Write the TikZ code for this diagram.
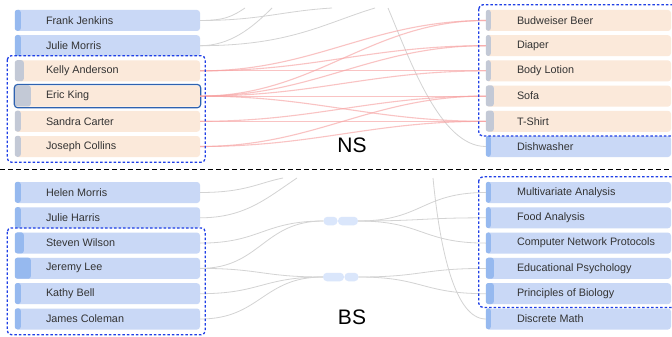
\documentclass[tikz,border=0pt]{standalone}
\usepackage{fontspec}
\setmainfont{Liberation Sans}
\usetikzlibrary{calc}
\definecolor{bbox}{HTML}{C9D8F6}
\definecolor{bstrip}{HTML}{96B9EF}
\definecolor{obox}{HTML}{FBE9DA}
\definecolor{ostrip}{HTML}{C3C9D6}
\definecolor{txt}{HTML}{333333}
\definecolor{dblue}{HTML}{1F3FE6}
\definecolor{selb}{HTML}{2E62B0}
\definecolor{glink}{HTML}{D3D3D3}
\definecolor{rlink}{HTML}{F7A3A3}
\definecolor{pillc}{HTML}{DAE6FB}
\tikzset{
  itembox/.style={rectangle, rounded corners=3pt, minimum width=185pt, minimum height=21pt, inner sep=0pt},
  lbl/.style={anchor=west, font=\fontsize{10.8}{12}\selectfont, text=txt, inner sep=0pt},
  glinkstyle/.style={draw=glink, line width=0.8pt},
  rlinkstyle/.style={draw=rlink, line width=1.1pt, opacity=0.65},
  dbox/.style={draw=dblue, line width=1.3pt, dash pattern=on 2.5pt off 2pt, rounded corners=4pt},
  divider/.style={draw=black, line width=0.8pt, dash pattern=on 5pt off 3pt},
  pill/.style={rectangle, rounded corners=4pt, fill=pillc, minimum height=8.5pt, inner sep=0pt},
  biglbl/.style={font=\fontsize{21}{24}\selectfont, text=black, inner sep=0pt}
}
\begin{document}
\begin{tikzpicture}[x=1pt, y=-1pt]
\useasboundingbox (0,0) rectangle (672,337);
\fill[white] (0,0) rectangle (672,337);

% ---------- free ends at the top ----------
\coordinate (t1) at (245,8);
\coordinate (t2) at (332,8);
\coordinate (t3) at (272,8);
\coordinate (t4) at (375,8);
\coordinate (t5) at (388,8);
\coordinate (tb1) at (283,178);
\coordinate (tb2) at (297,178);
\coordinate (tb3) at (433,178);

% ---------- nodes: boxes ----------
\foreach \n/\xx/\y/\t/\f/\s/\w in {
  frank/107.5/20.5/Frank Jenkins/bbox/bstrip/6,
  juliem/107.5/45.7/Julie Morris/bbox/bstrip/6,
  kelly/107.5/70.9/Kelly Anderson/obox/ostrip/9,
  eric/107.5/96.1/Eric King/obox/ostrip/16,
  sandra/107.5/121.3/Sandra Carter/obox/ostrip/6,
  joseph/107.5/146.5/Joseph Collins/obox/ostrip/6,
  bud/578.5/20.5/Budweiser Beer/obox/ostrip/5,
  diaper/578.5/45.7/Diaper/obox/ostrip/5,
  body/578.5/70.9/Body Lotion/obox/ostrip/5,
  sofa/578.5/96.1/Sofa/obox/ostrip/8,
  tshirt/578.5/121.3/T-Shirt/obox/ostrip/8,
  dish/578.5/146.5/Dishwasher/bbox/bstrip/5,
  helen/107.5/192.5/Helen Morris/bbox/bstrip/6,
  julieh/107.5/217.8/Julie Harris/bbox/bstrip/6,
  steven/107.5/243.1/Steven Wilson/bbox/bstrip/9,
  jeremy/107.5/268.4/Jeremy Lee/bbox/bstrip/16,
  kathy/107.5/293.7/Kathy Bell/bbox/bstrip/6,
  james/107.5/319/James Coleman/bbox/bstrip/6,
  multi/578.5/192.5/Multivariate Analysis/bbox/bstrip/5,
  food/578.5/217.8/Food Analysis/bbox/bstrip/5,
  comp/578.5/243.1/Computer Network Protocols/bbox/bstrip/5,
  edu/578.5/268.4/Educational Psychology/bbox/bstrip/8,
  bio/578.5/293.7/Principles of Biology/bbox/bstrip/8,
  dmath/578.5/319/Discrete Math/bbox/bstrip/5}
{
  \node[itembox, fill=\f] (\n) at (\xx,\y) {};
  \fill[\s, rounded corners=2.5pt] (\n.north west) rectangle ++(\w,21);
  \node[lbl] (\n-t) at ([xshift=31pt]\n.west) {\t};
}

% selected item border
\draw[selb, line width=1.2pt, rounded corners=3.5pt]
  ([shift={(-0.5,-1)}]eric.north west) rectangle ([shift={(0.5,1)}]eric.south east);

% ---------- bundle pills ----------
\node[pill, minimum width=14pt] (ub1) at (330.5,221) {};
\node[pill, minimum width=20pt] (ub2) at (348,221) {};
\node[pill, minimum width=21pt] (lb1) at (333.5,277) {};
\node[pill, minimum width=14pt] (lb2) at (351.5,277) {};

% gray links NS
\draw[glinkstyle] (frank.east) .. controls +(25,0) and +(-12,8) .. (t1);
\draw[glinkstyle] (frank.east) .. controls +(60,0) and +(-50,3) .. (t2);
\draw[glinkstyle] (juliem.east) .. controls +(30,0) and +(-20,20) .. (t3);
\draw[glinkstyle] (juliem.east) .. controls +(90,0) and +(-50,15) .. (t4);
\draw[glinkstyle] (t5) .. controls (410,60) and (440,146.5) .. (dish.west);

% red links NS
\foreach \a/\b in {kelly/bud, kelly/diaper, kelly/body,
                   eric/bud, eric/diaper, eric/body, eric/sofa, eric/tshirt,
                   sandra/sofa, sandra/tshirt, joseph/sofa, joseph/tshirt}
  \draw[rlinkstyle] (\a.east) .. controls +(115,0) and +(-115,0) .. (\b.west);

% gray links BS
\draw[glinkstyle] (helen.east) .. controls +(45,0) and +(-25,5) .. (tb1);
\draw[glinkstyle] (julieh.east) .. controls +(45,0) and +(-30,20) .. (tb2);
\draw[glinkstyle] (tb3) .. controls (440,250) and (455,319) .. (dmath.west);
\foreach \a/\b in {steven/ub1, jeremy/ub1, jeremy/lb1, kathy/lb1, james/lb1}
  \draw[glinkstyle] (\a.east) .. controls +(60,0) and +(-60,0) .. (\b.west);
\foreach \a/\b in {ub2/multi, ub2/food, ub2/comp, lb2/edu, lb2/bio}
  \draw[glinkstyle] (\a.east) .. controls +(64,0) and +(-64,0) .. (\b.west);

% ---------- group frames ----------
\draw[dbox] ([shift={(-7.5,-4.5)}]kelly.north west) rectangle ([shift={(5,5)}]joseph.south east);
\draw[dbox] ([shift={(-7.5,-4.5)}]steven.north west) rectangle ([shift={(5,5)}]james.south east);
\draw[dbox] ([shift={(-7,-5)}]bud.north west) rectangle ([shift={(10,4)}]tshirt.south east);
\draw[dbox] ([shift={(-7,-5)}]multi.north west) rectangle ([shift={(10,3)}]bio.south east);

% divider
\draw[divider] (0,169.5) -- (672,169.5);

% section labels
\node[biglbl] (ns) at (352,145) {NS};
\node[biglbl] (bs) at (352,317.5) {BS};
\end{tikzpicture}
\end{document}
